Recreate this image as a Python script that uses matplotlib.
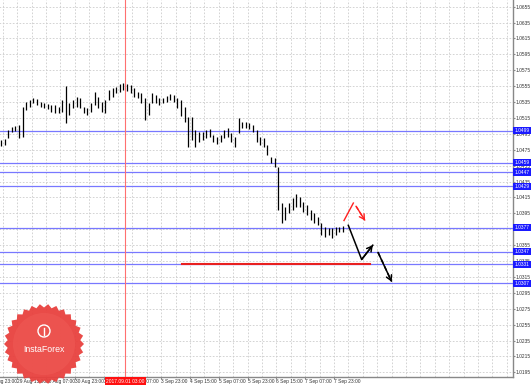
import numpy as np
import matplotlib
matplotlib.use('Agg')
import matplotlib.pyplot as plt
from matplotlib.patches import Polygon, Circle
from matplotlib.ticker import MultipleLocator, FixedLocator

plt.rcParams['font.family'] = ['Liberation Sans', 'DejaVu Sans']

# H2 bars, x in bar-hours after 28 Aug 23:00
bar_hours = list(range(7, 199, 2))
highs = [1.0487, 1.0488, 1.0500, 1.0504, 1.0505, 1.0506, 1.0529, 1.0535, 1.0538, 1.0540,
         1.0539, 1.0535, 1.0534, 1.0532, 1.0531, 1.0531, 1.0529, 1.0538, 1.0555, 1.0534,
         1.0538, 1.0541, 1.0540, 1.0529, 1.0528, 1.0534, 1.0548, 1.0541, 1.0535, 1.0538,
         1.0550, 1.0553, 1.0554, 1.0558, 1.0559, 1.0558, 1.0557, 1.0553, 1.0548, 1.0546,
         1.0540, 1.0534, 1.0546, 1.0544, 1.0540, 1.0540, 1.0543, 1.0545, 1.0544, 1.0540,
         1.0538, 1.0529, 1.0516, 1.0516, 1.0500, 1.0497, 1.0497, 1.0500, 1.0501, 1.0494,
         1.0491, 1.0494, 1.0500, 1.0502, 1.0496, 1.0491, 1.0515, 1.0510, 1.0510, 1.0509,
         1.0506, 1.0500, 1.0491, 1.0490, 1.0481, 1.0466, 1.0465, 1.0453, 1.0408, 1.0403,
         1.0408, 1.0414, 1.0419, 1.0416, 1.0409, 1.0405, 1.0399, 1.0395, 1.0390, 1.0383,
         1.0378, 1.0377, 1.0377, 1.0378, 1.0378, 1.0379]
lows = [1.0480, 1.0481, 1.0490, 1.0497, 1.0499, 1.0490, 1.0491, 1.0525, 1.0529, 1.0534,
        1.0531, 1.0529, 1.0528, 1.0526, 1.0522, 1.0521, 1.0521, 1.0522, 1.0509, 1.0519,
        1.0528, 1.0529, 1.0528, 1.0521, 1.0519, 1.0522, 1.0531, 1.0528, 1.0522, 1.0521,
        1.0538, 1.0541, 1.0546, 1.0548, 1.0550, 1.0549, 1.0546, 1.0541, 1.0540, 1.0534,
        1.0512, 1.0519, 1.0534, 1.0534, 1.0531, 1.0534, 1.0535, 1.0538, 1.0535, 1.0528,
        1.0518, 1.0510, 1.0479, 1.0487, 1.0479, 1.0485, 1.0487, 1.0490, 1.0491, 1.0485,
        1.0482, 1.0485, 1.0490, 1.0491, 1.0485, 1.0479, 1.0496, 1.0502, 1.0502, 1.0501,
        1.0497, 1.0485, 1.0481, 1.0479, 1.0468, 1.0458, 1.0453, 1.0399, 1.0383, 1.0387,
        1.0396, 1.0399, 1.0403, 1.0403, 1.0397, 1.0393, 1.0387, 1.0383, 1.0380, 1.0368,
        1.0365, 1.0368, 1.0364, 1.0368, 1.0371, 1.0372]

levels = [1.0499, 1.0459, 1.0447, 1.0429, 1.0377, 1.0347, 1.0331, 1.0307]
level_labels = ['1.0499', '1.0459', '1.0447', '1.0429', '1.0377', '1.0347', '1.0331', '1.0307']

y_ticks = [1.0655, 1.0635, 1.0615, 1.0595, 1.0575, 1.0555, 1.0535, 1.0515, 1.0495, 1.0475,
           1.0455, 1.0435, 1.0415, 1.0395, 1.0375, 1.0355, 1.0335, 1.0315, 1.0295, 1.0275,
           1.0255, 1.0235, 1.0215, 1.0195]

x_labels = ['28 Aug 23:00', '29 Aug 15:00', '30 Aug 07:00', '30 Aug 23:00', '31 Aug 15:00',
            '1 Sep 07:00', '3 Sep 23:00', '4 Sep 15:00', '5 Sep 07:00', '5 Sep 23:00',
            '6 Sep 15:00', '7 Sep 07:00', '7 Sep 23:00']
cursor_hour = 76
cursor_label = '2017.09.01 03:00'

support_price = 1.0331
support_hours = [107.5, 212]

# forecast drawings (hour, price)
red_up_h, red_up_p = [197.5, 202.7], [1.0386, 1.0408]
red_down_h, red_down_p = [204.2, 209.2], [1.0404, 1.0386]
blk_h, blk_p = [199.9, 207.3, 213.5], [1.0380, 1.0337, 1.0355]
blk_dash_h, blk_dash_p = [216.4, 224.0], [1.0346, 1.0309]

W, H = 531, 385
fig = plt.figure(figsize=(W / 100, H / 100), dpi=100, facecolor='white')
ax = fig.add_axes([-11.5 / W, 8 / H, 524.5 / W, 377 / H])
ax.set_xlim(0, 291.4)
ax.set_ylim(1.01892, 1.06634)

grid_kw = dict(color='#cccccc', lw=0.6, ls=(0, (2, 2)))
ax.xaxis.set_major_locator(FixedLocator(np.arange(0, 16 * len(x_labels), 16)))
ax.xaxis.set_minor_locator(MultipleLocator(8))
ax.set_xticklabels(x_labels, fontsize=3.5, color='#333333', ha='left')
ax.yaxis.set_major_locator(FixedLocator(y_ticks))
ax.yaxis.set_major_formatter(matplotlib.ticker.FormatStrFormatter('%.4f'))
ax.yaxis.tick_right()
ax.tick_params(axis='y', labelsize=3.5, labelcolor='#333333', length=1.5, pad=0.6, color='#888888')
ax.tick_params(axis='x', length=1.5, pad=0.3, color='#888888')
ax.tick_params(axis='x', which='minor', length=0)
ax.grid(True, which='both', axis='x', **grid_kw)
ax.grid(True, which='major', axis='y', **grid_kw)
for s in ['top', 'left']:
    ax.spines[s].set_visible(False)
for s in ['right', 'bottom']:
    ax.spines[s].set_color('#888888')
    ax.spines[s].set_linewidth(1.0)

# levels
for lv, lb in zip(levels, level_labels):
    ax.axhline(lv, color='#7878ff', lw=0.9, zorder=2)
    ax.text(1.003, lv, lb, transform=ax.get_yaxis_transform(), fontsize=3.5, color='white',
            ha='left', va='center', zorder=6, clip_on=False,
            bbox=dict(boxstyle='square,pad=0.25', fc='#1a1aff', ec='none'))

ax.axvline(cursor_hour, color='#ff7070', lw=0.8, zorder=2)

# price bars
ax.vlines(bar_hours, lows, highs, color='black', lw=0.9, zorder=4)

# support line
ax.plot(support_hours, [support_price, support_price], color='#e82020', lw=1.5, zorder=3)

# forecast arrows
arrow = '->,head_length=0.35,head_width=0.2'
ax.plot(red_up_h, red_up_p, color='#ff2020', lw=1.0, zorder=5)
ax.plot(red_down_h, red_down_p, color='#ff2020', lw=1.0, ls=(0, (3, 2)), zorder=5)
ax.annotate('', xy=(red_down_h[-1], red_down_p[-1]), xytext=(red_down_h[0], red_down_p[0]),
            arrowprops=dict(arrowstyle=arrow, color='#ff2020', lw=1.0, shrinkA=0, shrinkB=0), zorder=5)
ax.plot(blk_h, blk_p, color='black', lw=1.1, zorder=5)
ax.annotate('', xy=(blk_h[-1], blk_p[-1]), xytext=(blk_h[-2], blk_p[-2]),
            arrowprops=dict(arrowstyle=arrow, color='black', lw=1.1, shrinkA=0, shrinkB=0), zorder=5)
ax.plot(blk_dash_h, blk_dash_p, color='black', lw=1.1, ls=(0, (3, 2)), zorder=5)
ax.annotate('', xy=(blk_dash_h[-1], blk_dash_p[-1]), xytext=(blk_dash_h[0], blk_dash_p[0]),
            arrowprops=dict(arrowstyle=arrow, color='black', lw=1.1, shrinkA=0, shrinkB=0), zorder=5)

# cursor time label
ax.text(cursor_hour, -0.004, cursor_label, transform=ax.get_xaxis_transform(), fontsize=3.5,
        color='white', ha='center', va='top', zorder=7, clip_on=False,
        bbox=dict(boxstyle='square,pad=0.25', fc='#ff1010', ec='none'))

# InstaForex watermark
ov = fig.add_axes([0, 0, 1, 1], facecolor='none')
ov.set_xlim(0, W)
ov.set_ylim(H, 0)
ov.axis('off')
cx, cy = 44, 344
ang = np.linspace(0, 2 * np.pi, 61)[:-1]
rad = np.where(np.arange(60) % 2 == 0, 40, 36.5)
ov.add_patch(Polygon(np.c_[cx + rad * np.cos(ang), cy + rad * np.sin(ang)],
                     closed=True, fc='#e8413e', ec='none', alpha=0.95))
ov.add_patch(Circle((cx, cy), 31, fc='#ef5a55', ec='none', alpha=0.6))
ov.add_patch(Circle((cx, cy - 13), 6, fc='none', ec='white', lw=1.0))
ov.plot([cx, cx], [cy - 16, cy - 9], color='white', lw=1.0)
ov.text(cx, cy + 6, 'InstaForex', color='white', fontsize=6.3, ha='center', va='center')

fig.savefig('out.png', dpi=100, facecolor='white')
